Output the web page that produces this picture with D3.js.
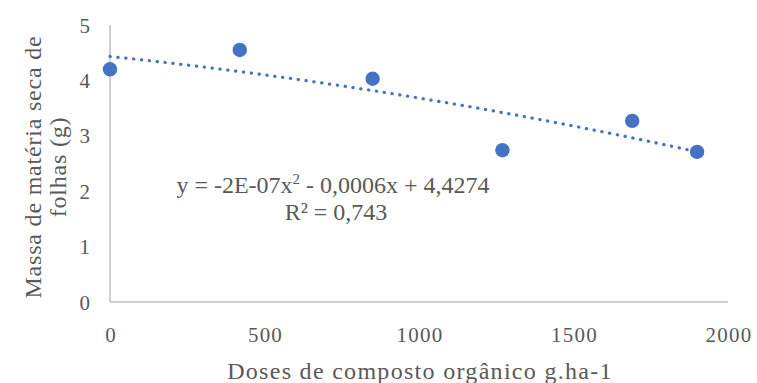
<!DOCTYPE html>
<html>
<head>
<meta charset="utf-8">
<title>massa seca folhas</title>
<script src="https://cdn.jsdelivr.net/npm/d3@7"></script>
<style>
  body{margin:0;background:#fff;}
</style>
</head>
<body>
<div id="chart"></div>
<script>
// doses (g.ha-1) and dry mass of leaves (g)
var doses = [0, 420, 850, 1270, 1690, 1900]
var massa = [4.2, 4.55, 4.03, 2.74, 3.27, 2.71]
var xTicks = [0, 500, 1000, 1500, 2000]
var yTicks = [0, 1, 2, 3, 4, 5]
var r2label = "R² = 0,743"

var width = 757, height = 383
var svg = d3.select("#chart").append("svg").attr("width", width).attr("height", height)
  .attr("font-family", "'Liberation Serif', 'Times New Roman', serif")
var textColor = "#595959"

var x = d3.scaleLinear().domain([0, 2000]).range([110, 728])
var y = d3.scaleLinear().domain([0, 5]).range([302, 25])

// axis lines (no gridlines in original)
svg.append("line").attr("x1", x(0)).attr("x2", x(0)).attr("y1", y(5)).attr("y2", y(0))
  .attr("stroke", "#bfbfbf").attr("stroke-width", 1.5)
svg.append("line").attr("x1", x(0)).attr("x2", x(2000)).attr("y1", y(0)).attr("y2", y(0))
  .attr("stroke", "#bfbfbf").attr("stroke-width", 1.5)

svg.selectAll(".ytick").data(yTicks).enter().append("text")
  .attr("class", "ytick").attr("fill", textColor)
  .attr("x", 90).attr("y", function(d){ return y(d) + 7.5 })
  .attr("text-anchor", "end").attr("font-size", 21)
  .text(function(d){ return d })

svg.selectAll(".xtick").data(xTicks).enter().append("text")
  .attr("class", "xtick").attr("fill", textColor)
  .attr("x", function(d){ return x(d) + 1 }).attr("y", 342)
  .attr("text-anchor", "middle").attr("font-size", 21)
  .attr("letter-spacing", 1.2)
  .text(function(d){ return d })

svg.append("text").attr("x", 420).attr("y", 379).attr("text-anchor", "middle")
  .attr("fill", textColor).attr("font-size", 24).attr("letter-spacing", 1.3)
  .text("Doses de composto orgânico g.ha-1")

var yTitle = svg.append("text").attr("transform", "translate(0,167) rotate(-90)")
  .attr("fill", textColor).attr("text-anchor", "middle").attr("font-size", 24).attr("letter-spacing", 0.8)
yTitle.append("tspan").attr("x", 0).attr("y", 41).text("Massa de matéria  seca de")
yTitle.append("tspan").attr("x", 0).attr("y", 66).text("folhas (g)")

// quadratic least squares trendline, from the points (like excel does)
function polyFit(xs, ys){
  var n = xs.length, s = [0,0,0,0,0], t = [0,0,0]
  for(var i = 0; i < n; i++){
    var p = 1
    for(var k = 0; k < 5; k++){ s[k] += p; if(k < 3) t[k] += p * ys[i]; p *= xs[i] }
  }
  var A = [[s[0],s[1],s[2],t[0]],[s[1],s[2],s[3],t[1]],[s[2],s[3],s[4],t[2]]]
  for(var c = 0; c < 3; c++){
    for(var r = c + 1; r < 3; r++){
      var f = A[r][c] / A[c][c]
      for(var k2 = c; k2 < 4; k2++) A[r][k2] -= f * A[c][k2]
    }
  }
  var coef = [0,0,0]
  for(var r2 = 2; r2 >= 0; r2--){
    var v = A[r2][3]
    for(var k3 = r2 + 1; k3 < 3; k3++) v -= A[r2][k3] * coef[k3]
    coef[r2] = v / A[r2][r2]
  }
  return coef
}
var coef = polyFit(doses, massa)
var trend = d3.range(0, 101).map(function(i){
  var xv = d3.min(doses) + (d3.max(doses) - d3.min(doses)) * i / 100
  return [xv, coef[0] + coef[1] * xv + coef[2] * xv * xv]
})
svg.append("path")
  .attr("d", d3.line().x(function(d){ return x(d[0]) }).y(function(d){ return y(d[1]) })(trend))
  .attr("fill", "none").attr("stroke", "#4472c4").attr("stroke-width", 3.2)
  .attr("stroke-linecap", "round").attr("stroke-dasharray", "0.3 7.6")

svg.selectAll(".pt").data(doses).enter().append("circle")
  .attr("class", "pt")
  .attr("cx", function(d){ return x(d) })
  .attr("cy", function(d, i){ return y(massa[i]) })
  .attr("r", 7.2).attr("fill", "#4472c4")

var eq = svg.append("text").attr("x", 333).attr("y", 193).attr("text-anchor", "middle")
  .attr("font-size", 24).attr("fill", textColor)
eq.append("tspan").text("y = -2E-07x")
eq.append("tspan").attr("dy", -9).attr("font-size", 15).text("2")
eq.append("tspan").attr("dy", 9).text(" - 0,0006x + 4,4274")
svg.append("text").attr("x", 336).attr("y", 220).attr("text-anchor", "middle")
  .attr("fill", textColor).attr("font-size", 24).text(r2label)
</script>
</body>
</html>
